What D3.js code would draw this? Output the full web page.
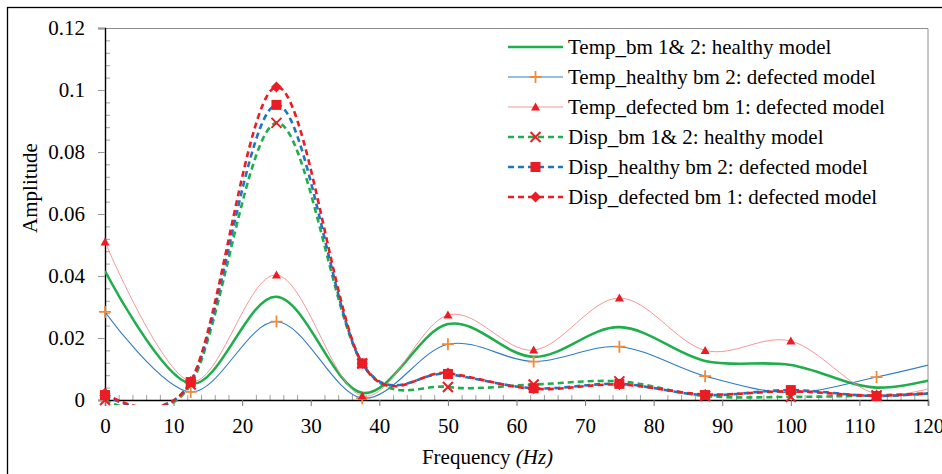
<!DOCTYPE html>
<html>
<head>
<meta charset="utf-8">
<script src="https://cdn.jsdelivr.net/npm/d3@7"></script>
<style>
  html, body { margin: 0; padding: 0; background: #fff; }
  svg text { font-family: "Liberation Serif", "Times New Roman", serif; fill: #000; }
</style>
</head>
<body>
<div id="chart"></div>
<script>
// Frequências (Hz) — o último ponto fica fora do eixo e é recortado
const frequencies = [0, 12.5, 25, 37.5, 50, 62.5, 75, 87.5, 100, 112.5, 125];

const tempHealthy   = [0.0416, 0.0052, 0.0333, 0.0023, 0.0245, 0.0139, 0.0235, 0.0126, 0.0113, 0.0040, 0.0090];
const tempHealthyB2 = [0.0284, 0.0026, 0.0253, 0.0006, 0.0180, 0.0124, 0.0172, 0.0077, 0.0024, 0.0074, 0.0140];
const tempDefectB1  = [0.0510, 0.0060, 0.0403, 0.0013, 0.0274, 0.0161, 0.0329, 0.0160, 0.0190, 0.0020, 0.0070];
const dispHealthy   = [0.0000, 0.0050, 0.0894, 0.0118, 0.0042, 0.0050, 0.0060, 0.0013, 0.0010, 0.0015, 0.0025];
const dispHealthyB2 = [0.0016, 0.0058, 0.0952, 0.0118, 0.0084, 0.0038, 0.0052, 0.0016, 0.0032, 0.0013, 0.0030];
const dispDefectB1  = [0.0022, 0.0060, 0.1010, 0.0118, 0.0087, 0.0036, 0.0050, 0.0018, 0.0028, 0.0014, 0.0030];

const xTicks = [0, 10, 20, 30, 40, 50, 60, 70, 80, 90, 100, 110, 120];
const yTicks = [0, 0.02, 0.04, 0.06, 0.08, 0.1, 0.12];

const series = [
  { name: 'Temp_bm 1& 2: healthy model', values: tempHealthy, color: '#1fae4b', width: 2.6, dash: null, marker: null },
  { name: 'Temp_healthy bm 2: defected model', values: tempHealthyB2, color: '#2e7cc4', width: 1.1, dash: null, marker: 'plus', mcolor: '#f08b3c' },
  { name: 'Temp_defected bm 1: defected model', values: tempDefectB1, color: '#f58a8a', width: 0.9, dash: null, marker: 'triangle', mcolor: '#ec1c24' },
  { name: 'Disp_bm 1& 2: healthy model', values: dispHealthy, color: '#1fae4b', width: 2.6, dash: '6,4', marker: 'x', mcolor: '#ec1c24' },
  { name: 'Disp_healthy bm 2: defected model', values: dispHealthyB2, color: '#1f74c4', width: 2.6, dash: '6,4', marker: 'square', mcolor: '#ec1c24' },
  { name: 'Disp_defected bm 1: defected model', values: dispDefectB1, color: '#ec1c24', width: 2.6, dash: '6,4', marker: 'diamond', mcolor: '#ec1c24' }
];

const W = 942, H = 474;
const margin = { top: 28, right: 14, bottom: 74, left: 105 };
const width = W - margin.left - margin.right;
const height = H - margin.top - margin.bottom;

const svg = d3.select('#chart').append('svg')
  .attr('width', W)
  .attr('height', H);

// Moldura externa
svg.append('rect')
  .attr('x', 7.5).attr('y', 7.5)
  .attr('width', W).attr('height', H)
  .attr('fill', 'none')
  .attr('stroke', '#000')
  .attr('stroke-width', 1.3);

const g = svg.append('g').attr('transform', `translate(${margin.left},${margin.top})`);

const x = d3.scaleLinear().domain([0, 120]).range([0, width]);
const y = d3.scaleLinear().domain([0, 0.12]).range([height, 0]);

// Borda da área do gráfico (topo e direita em cinza)
g.append('path')
  .attr('d', `M0,0.5H${width}V${height}`)
  .attr('fill', 'none')
  .attr('stroke', '#8c8c8c')
  .attr('stroke-width', 1);

// Ticks menores
g.append('g')
  .attr('transform', `translate(0,${height})`)
  .call(d3.axisTop(x).tickValues(d3.range(0, 121, 2).filter(v => v % 10 !== 0)).tickSize(5).tickFormat(''))
  .call(a => a.select('.domain').remove())
  .call(a => a.selectAll('line').attr('stroke', '#a0a0a0'));

g.append('g')
  .call(d3.axisRight(y).tickValues(d3.range(0, 0.1201, 0.004).filter((v, i) => i % 5 !== 0)).tickSize(5).tickFormat(''))
  .call(a => a.select('.domain').remove())
  .call(a => a.selectAll('line').attr('stroke', '#a0a0a0'));

// Eixos principais
const xAxis = g.append('g')
  .attr('transform', `translate(0,${height})`)
  .call(d3.axisBottom(x).tickValues(xTicks).tickSize(6).tickPadding(12).tickFormat(d3.format('d')));
xAxis.select('.domain').attr('stroke', '#000').attr('stroke-width', 1.4);
xAxis.selectAll('line').attr('stroke', '#777');
xAxis.selectAll('text').style('font-size', '21px');

const yAxis = g.append('g')
  .call(d3.axisLeft(y).tickValues(yTicks).tickSize(7).tickPadding(13).tickFormat(d => d === 0 ? '0' : String(+d.toFixed(2))));
yAxis.select('.domain').attr('stroke', '#000').attr('stroke-width', 1.4);
yAxis.selectAll('line').attr('stroke', '#999');
yAxis.selectAll('text').style('font-size', '21px');

// Títulos dos eixos
const xt = g.append('text')
  .attr('x', 487.5 - margin.left)
  .attr('y', height + 64)
  .attr('text-anchor', 'middle')
  .style('font-size', '21px');
xt.append('tspan').text('Frequency ');
xt.append('tspan').style('font-style', 'italic').text('(Hz)');

g.append('text')
  .attr('transform', 'rotate(-90)')
  .attr('x', -(188 - margin.top))
  .attr('y', -68)
  .attr('text-anchor', 'middle')
  .style('font-size', '21px')
  .text('Amplitude');

// Recorte das linhas
g.append('defs').append('clipPath')
  .attr('id', 'plot-clip')
  .append('rect')
  .attr('x', 0).attr('y', -5)
  .attr('width', width).attr('height', height + 10);

const line = d3.line()
  .x((d, i) => x(frequencies[i]))
  .y(d => y(d))
  .curve(d3.curveCatmullRom.alpha(0));

function drawMarker(sel, type, color, cx, cy) {
  if (type === 'plus') {
    sel.append('path').attr('d', `M${cx - 6},${cy}H${cx + 6}M${cx},${cy - 6}V${cy + 6}`)
      .attr('stroke', color).attr('stroke-width', 1.8).attr('fill', 'none');
  } else if (type === 'triangle') {
    sel.append('path').attr('d', `M${cx},${cy - 4.5}L${cx + 4.5},${cy + 3.5}L${cx - 4.5},${cy + 3.5}Z`)
      .attr('fill', color);
  } else if (type === 'x') {
    sel.append('path').attr('d', `M${cx - 5},${cy - 5}L${cx + 5},${cy + 5}M${cx + 5},${cy - 5}L${cx - 5},${cy + 5}`)
      .attr('stroke', color).attr('stroke-width', 2).attr('fill', 'none');
  } else if (type === 'square') {
    sel.append('rect').attr('x', cx - 5).attr('y', cy - 5).attr('width', 10).attr('height', 10)
      .attr('fill', color);
  } else if (type === 'diamond') {
    sel.append('path').attr('d', `M${cx},${cy - 5.5}L${cx + 5.5},${cy}L${cx},${cy + 5.5}L${cx - 5.5},${cy}Z`)
      .attr('fill', color);
  }
}

series.forEach(s => {
  g.append('path')
    .datum(s.values)
    .attr('clip-path', 'url(#plot-clip)')
    .attr('fill', 'none')
    .attr('stroke', s.color)
    .attr('stroke-width', s.width)
    .attr('stroke-dasharray', s.dash)
    .attr('d', line);

  if (s.marker) {
    const mg = g.append('g');
    s.values.forEach((v, i) => {
      if (frequencies[i] > 120) return;
      drawMarker(mg, s.marker, s.mcolor, x(frequencies[i]), y(v));
    });
  }
});

// Legenda
const legend = svg.append('g').attr('transform', 'translate(508, 47)');
series.forEach((s, i) => {
  const row = legend.append('g').attr('transform', `translate(0, ${i * 30})`);
  row.append('line')
    .attr('x1', 0).attr('x2', 55)
    .attr('stroke', s.color)
    .attr('stroke-width', s.width)
    .attr('stroke-dasharray', s.dash);
  if (s.marker) drawMarker(row, s.marker, s.mcolor, 27.5, 0);
  row.append('text')
    .attr('x', 60)
    .attr('y', 7)
    .style('font-size', '21px')
    .text(s.name);
});
</script>
</body>
</html>
